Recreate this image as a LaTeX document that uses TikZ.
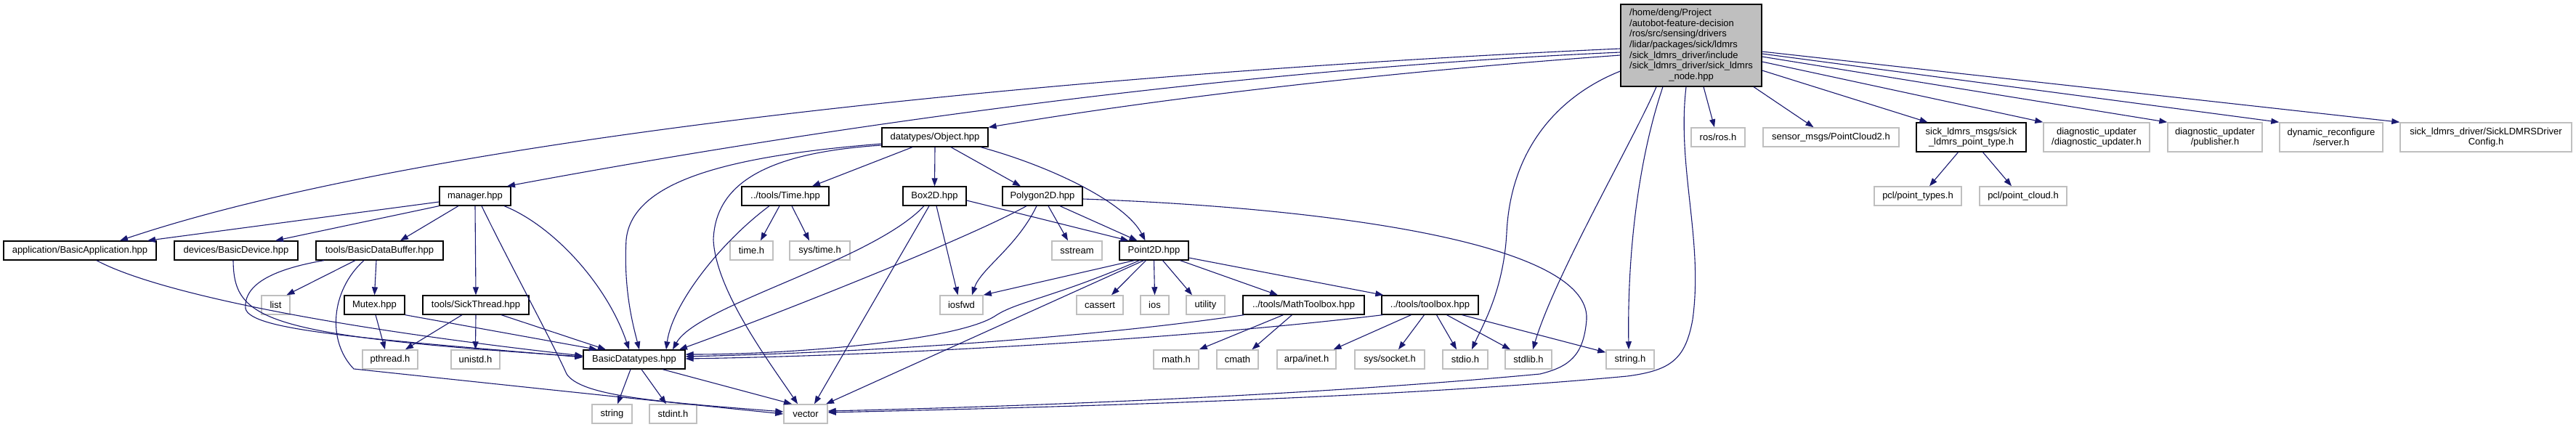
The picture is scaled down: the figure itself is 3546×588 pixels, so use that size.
\documentclass[tikz,border=0pt]{standalone}
\usepackage{fontspec}
\setmainfont{Liberation Sans}
\usetikzlibrary{arrows.meta}
\definecolor{edgec}{HTML}{191970}
\definecolor{grayb}{HTML}{BFBFBF}
\tikzset{
  nd/.style={draw, rectangle, inner sep=0pt, align=center, fill=white,
    font=\fontsize{13}{14.6}\selectfont, minimum height=26pt},
  doc/.style={nd, draw=black, line width=1.3pt},
  ext/.style={nd, draw=grayb, line width=1.5pt},
  dep/.style={draw=edgec, line width=1.1pt, -{Triangle[length=11pt,width=8pt]}},
}
\begin{document}
\begin{tikzpicture}[x=1pt,y=-1pt]
\useasboundingbox[fill=white] (0,0) rectangle (3546,588);
% nodes
\node[doc, fill=grayb, minimum width=194pt, minimum height=113pt] (root) at (2328,62.5)
 {\begin{tabular}{@{}l@{}}/home/deng/Project\\/autobot-feature-decision\\/ros/src/sensing/drivers\\/lidar/packages/sick/ldmrs\\/sick\_ldmrs\_driver/include\\/sick\_ldmrs\_driver/sick\_ldmrs\\\multicolumn{1}{@{}c@{}}{\_node.hpp}\end{tabular}};
\node[ext, minimum width=74pt] (ros) at (2365,189) {ros/ros.h};
\node[ext, minimum width=187pt] (pc2) at (2520.5,189) {sensor\_msgs/PointCloud2.h};
\node[doc, minimum width=151pt, minimum height=40pt] (sickmsgs) at (2713.5,189) {sick\_ldmrs\_msgs/sick\\\_ldmrs\_point\_type.h};
\node[ext, minimum width=146pt, minimum height=40pt] (diagupd) at (2886,189) {diagnostic\_updater\\/diagnostic\_updater.h};
\node[ext, minimum width=130pt, minimum height=40pt] (diagpub) at (3049,189) {diagnostic\_updater\\/publisher.h};
\node[ext, minimum width=142pt, minimum height=40pt] (dynrec) at (3209,189) {dynamic\_reconfigure\\/server.h};
\node[ext, minimum width=236pt, minimum height=40pt] (sickcfg) at (3422,189) {sick\_ldmrs\_driver/SickLDMRSDriver\\Config.h};
\node[ext, minimum width=120pt] (pcltypes) at (2640,270) {pcl/point\_types.h};
\node[ext, minimum width=120pt] (pclcloud) at (2785,270) {pcl/point\_cloud.h};
\node[doc, minimum width=146pt] (object) at (1287,189) {datatypes/Object.hpp};
\node[doc, minimum width=98pt] (manager) at (654,270) {manager.hpp};
\node[doc, minimum width=120pt] (timehpp) at (1081,270) {../tools/Time.hpp};
\node[doc, minimum width=87pt] (box2d) at (1286.5,270) {Box2D.hpp};
\node[doc, minimum width=110pt] (polygon) at (1435,270) {Polygon2D.hpp};
\node[doc, minimum width=210pt] (app) at (110,345) {application/BasicApplication.hpp};
\node[doc, minimum width=170pt] (devices) at (325,345) {devices/BasicDevice.hpp};
\node[doc, minimum width=175pt] (databuf) at (522.5,345) {tools/BasicDataBuffer.hpp};
\node[ext, minimum width=59pt] (timeh) at (1034.5,345) {time.h};
\node[ext, minimum width=83pt] (systime) at (1128.5,345) {sys/time.h};
\node[ext, minimum width=69pt] (sstream) at (1482.5,345) {sstream};
\node[doc, minimum width=95pt] (point2d) at (1588.5,345) {Point2D.hpp};
\node[ext, minimum width=39pt] (list) at (379.5,420) {list};
\node[doc, minimum width=83pt] (mutex) at (515.5,420) {Mutex.hpp};
\node[doc, minimum width=146pt] (sickthread) at (655,420) {tools/SickThread.hpp};
\node[ext, minimum width=59pt] (iosfwd) at (1323.5,420) {iosfwd};
\node[ext, minimum width=64pt] (cassert) at (1514,420) {cassert};
\node[ext, minimum width=39pt] (ios) at (1589.5,420) {ios};
\node[ext, minimum width=53pt] (utility) at (1659.5,420) {utility};
\node[doc, minimum width=167pt] (mathtb) at (1794.5,420) {../tools/MathToolbox.hpp};
\node[doc, minimum width=133pt] (toolbox) at (1968.5,420) {../tools/toolbox.hpp};
\node[ext, minimum width=76pt] (pthread) at (537,495) {pthread.h};
\node[ext, minimum width=67pt] (unistd) at (654.5,495) {unistd.h};
\node[doc, minimum width=140pt] (bdt) at (873,495) {BasicDatatypes.hpp};
\node[ext, minimum width=62pt] (mathh) at (1619,495) {math.h};
\node[ext, minimum width=57pt] (cmath) at (1703.5,495) {cmath};
\node[ext, minimum width=81pt] (arpa) at (1798.5,495) {arpa/inet.h};
\node[ext, minimum width=96pt] (syssocket) at (1913,495) {sys/socket.h};
\node[ext, minimum width=62pt] (stdio) at (2017,495) {stdio.h};
\node[ext, minimum width=64pt] (stdlib) at (2104,495) {stdlib.h};
\node[ext, minimum width=66pt] (stringh) at (2244,495) {string.h};
\node[ext, minimum width=55pt] (string) at (842.5,570) {string};
\node[ext, minimum width=65pt] (stdint) at (926.5,570) {stdint.h};
\node[ext, minimum width=60pt] (vector) at (1109,570) {vector};
% edges from root
\draw[dep] ([yshift=-4.5pt]root.west) .. controls (1500,100) and (600,185) .. ([xshift=55pt]app.north);
\draw[dep] ([yshift=-9.5pt]root.west) .. controls (1600,100) and (1000,200) .. ([xshift=44pt]manager.north);
\draw[dep] ([yshift=-13.5pt]root.west) .. controls (1900,100) and (1600,135) .. (object.north east);
\draw[dep] ([yshift=-35.5pt]root.west) .. controls (2150,130) and (2080,200) .. (2074,320) .. controls (2070,400) and (2040,450) .. ([xshift=9pt]stdio.north);
\draw[dep] ([xshift=-48pt]root.south) .. controls (2250,190) and (2140,380) .. ([xshift=6pt]stdlib.north);
\draw[dep] ([xshift=-39pt]root.south) .. controls (2255,220) and (2240,350) .. ([xshift=-2pt]stringh.north);
\draw[dep] ([xshift=-7pt]root.south) .. controls (2308,230) and (2345,330) .. (2330,440) .. controls (2320,495) and (2300,510) .. (2240,518) .. controls (1900,550) and (1400,562) .. ([yshift=2pt]vector.east);
\draw[dep] ([xshift=17pt]root.south) -- ([xshift=-5pt]ros.north);
\draw[dep] ([xshift=86pt]root.south) -- ([xshift=-24pt]pc2.north);
\draw[dep] ([yshift=-34.5pt]root.east) -- ([xshift=-60pt]sickmsgs.north);
\draw[dep] ([yshift=-22.5pt]root.east) -- (diagupd.north west);
\draw[dep] ([yshift=-15.5pt]root.east) -- (diagpub.north west);
\draw[dep] ([yshift=-11.5pt]root.east) -- (dynrec.north west);
\draw[dep] ([yshift=-8.5pt]root.east) -- (sickcfg.north west);
\draw[dep] ([xshift=-18pt]sickmsgs.south) -- ([xshift=16pt]pcltypes.north);
\draw[dep] ([xshift=16pt]sickmsgs.south) -- ([xshift=-16pt]pclcloud.north);
% manager
\draw[dep] ([yshift=-8pt]manager.west) -- ([xshift=93pt]app.north);
\draw[dep] (manager.south west) -- ([xshift=54pt]devices.north);
\draw[dep] ([xshift=-23pt]manager.south) -- ([xshift=28.5pt]databuf.north);
\draw[dep] (manager.south) -- (sickthread.north);
\draw[dep] ([xshift=9pt]manager.south) .. controls (700,360) and (760,470) .. (780,515) .. controls (800,545) and (900,553) .. ([yshift=3pt]vector.west);
\draw[dep] ([xshift=40pt]manager.south) .. controls (760,310) and (835,390) .. ([xshift=-7pt]bdt.north);
% object
\draw[dep] ([xshift=-31pt]object.south) -- ([xshift=37pt]timehpp.north);
\draw[dep] (object.south) -- (box2d.north);
\draw[dep] ([xshift=22pt]object.south) -- ([xshift=-30pt]polygon.north);
\draw[dep] ([xshift=63pt]object.south) .. controls (1450,230) and (1550,280) .. ([xshift=-12pt]point2d.north);
\draw[dep] ([yshift=-9pt]object.west) .. controls (1000,215) and (870,250) .. (862,330) .. controls (858,400) and (872,450) .. ([xshift=7pt]bdt.north);
\draw[dep] ([yshift=-11pt]object.west) .. controls (1060,210) and (985,250) .. (982,330) .. controls (985,400) and (1060,500) .. ([xshift=-11pt]vector.north);
% time
\draw[dep] ([xshift=-8pt]timehpp.south) -- ([xshift=12.5pt]timeh.north);
\draw[dep] ([xshift=9pt]timehpp.south) -- ([xshift=-14.5pt]systime.north);
\draw[dep] ([xshift=-22pt]timehpp.south) .. controls (990,335) and (925,420) .. ([xshift=44pt]bdt.north);
% box2d
\draw[dep] ([yshift=-6pt]box2d.east) -- ([xshift=-35pt]point2d.north);
\draw[dep] ([xshift=2.5pt]box2d.south) -- ([xshift=-5pt]iosfwd.north);
\draw[dep] ([xshift=-14.5pt]box2d.south) .. controls (1200,360) and (960,420) .. ([xshift=53pt]bdt.north);
\draw[dep] ([xshift=-7.5pt]box2d.south) -- ([xshift=12pt]vector.north);
% polygon
\draw[dep] ([xshift=24pt]polygon.south) -- ([xshift=-23pt]point2d.north);
\draw[dep] ([xshift=8pt]polygon.south) -- ([xshift=-12.5pt]sstream.north);
\draw[dep] ([xshift=-8pt]polygon.south) .. controls (1400,340) and (1350,370) .. ([xshift=14.5pt]iosfwd.north);
\draw[dep] ([xshift=-22pt]polygon.south) .. controls (1330,330) and (1050,440) .. ([xshift=62pt]bdt.north);
\draw[dep] ([yshift=-4pt]polygon.east) .. controls (1800,285) and (2190,330) .. (2184,440) .. controls (2180,490) and (2160,505) .. (2120,515) .. controls (1800,545) and (1400,560) .. ([yshift=4pt]vector.east);
% point2d
\draw[dep] ([xshift=-27pt]point2d.south) -- (iosfwd.north east);
\draw[dep] ([xshift=-11pt]point2d.south) -- ([xshift=16pt]cassert.north);
\draw[dep] (point2d.south) -- (ios.north);
\draw[dep] ([xshift=12pt]point2d.south) -- ([xshift=-18.5pt]utility.north);
\draw[dep] ([xshift=36pt]point2d.south) -- ([xshift=-35.5pt]mathtb.north);
\draw[dep] ([yshift=-10pt]point2d.east) -- ([xshift=3pt]toolbox.north west);
\draw[dep] ([xshift=-20pt]point2d.south) .. controls (1450,410) and (1400,415) .. (1370,435) .. controls (1320,468) and (1100,488) .. ([yshift=7pt]bdt.east);
\draw[dep] ([xshift=-14pt]point2d.south) -- ([xshift=28pt]vector.north);
% math toolbox
\draw[dep] ([xshift=-82pt]mathtb.south) .. controls (1500,465) and (1200,485) .. ([yshift=4pt]bdt.east);
\draw[dep] ([xshift=-28pt]mathtb.south) -- (mathh.north east);
\draw[dep] ([xshift=-16pt]mathtb.south) -- ([xshift=20pt]cmath.north);
% toolbox
\draw[dep] ([xshift=-65pt]toolbox.south) .. controls (1600,470) and (1200,490) .. ([yshift=1pt]bdt.east);
\draw[dep] ([xshift=-26pt]toolbox.south) -- ([xshift=37pt]arpa.north);
\draw[dep] ([xshift=-8pt]toolbox.south) -- ([xshift=12pt]syssocket.north);
\draw[dep] ([xshift=9pt]toolbox.south) -- ([xshift=-12pt]stdio.north);
\draw[dep] ([xshift=23pt]toolbox.south) -- ([xshift=-25pt]stdlib.north);
\draw[dep] ([xshift=44pt]toolbox.south) -- ([yshift=-4pt]stringh.north west);
% application, devices, databuffer
\draw[dep] ([xshift=23pt]app.south) .. controls (200,395) and (400,445) .. ([yshift=5pt]bdt.west);
\draw[dep] ([xshift=-4pt]devices.south) .. controls (322,440) and (360,462) .. ([yshift=4pt]bdt.west);
\draw[dep] ([xshift=-76.5pt]databuf.south) .. controls (380,370) and (335,390) .. (338,425) .. controls (345,455) and (500,466) .. ([yshift=3pt]bdt.west);
\draw[dep] ([xshift=-33.5pt]databuf.south) -- ([xshift=15pt]list.north);
\draw[dep] ([xshift=-4.5pt]databuf.south) -- (mutex.north);
\draw[dep] ([xshift=-21.5pt]databuf.south) .. controls (455,400) and (450,470) .. (487,508) .. controls (600,520) and (900,552) .. (vector.west);
% mutex, sickthread
\draw[dep] ([xshift=1.5pt]mutex.south) -- ([xshift=-7pt]pthread.north);
\draw[dep] (mutex.south east) -- ([xshift=-51pt]bdt.north);
\draw[dep] ([xshift=-19pt]sickthread.south) -- ([xshift=21pt]pthread.north);
\draw[dep] (sickthread.south) -- (unistd.north);
\draw[dep] ([xshift=35pt]sickthread.south) -- ([xshift=-39pt]bdt.north);
% basic datatypes
\draw[dep] ([xshift=-5pt]bdt.south) -- ([xshift=7.5pt]string.north);
\draw[dep] ([xshift=10pt]bdt.south) -- ([xshift=-9.5pt]stdint.north);
\draw[dep] ([xshift=39pt]bdt.south) -- ([xshift=-19pt]vector.north);
\end{tikzpicture}
\end{document}
